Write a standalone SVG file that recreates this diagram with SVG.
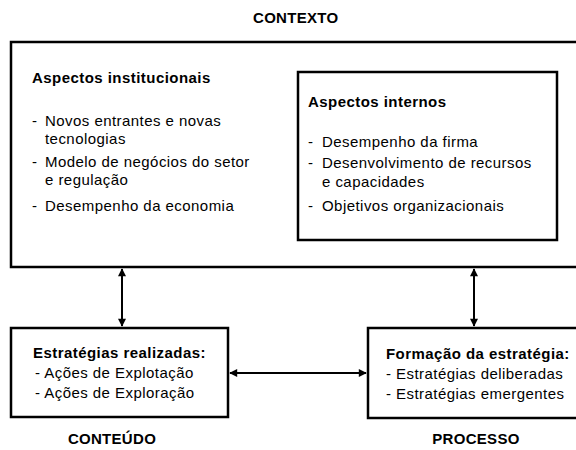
<svg xmlns="http://www.w3.org/2000/svg" width="576" height="450" viewBox="0 0 576 450">
<defs>
<marker id="ah" viewBox="0 0 10 10" refX="9" refY="5" markerWidth="4.5" markerHeight="4" orient="auto-start-reverse">
<path d="M0,0 L10,5 L0,10 Z" fill="#000"/>
</marker>
<style>
.box{fill:#fff;stroke:#000;stroke-width:2.5}
.t{font-family:"Liberation Sans",Arial,sans-serif;font-size:15px;letter-spacing:0.45px;fill:#000}
.b{font-weight:bold}
.lab{font-family:"Liberation Sans",Arial,sans-serif;font-size:15px;letter-spacing:0.3px;font-weight:bold;fill:#000}
.c{stroke:#000;stroke-width:2;fill:none;marker-start:url(#ah);marker-end:url(#ah)}
</style>
</defs>
<rect width="576" height="450" fill="#fff"/>
<text class="lab" x="253" y="23">CONTEXTO</text>
<g id="contexto">
<rect class="box" x="11" y="42" width="580" height="225"/>
<text class="t b" x="32" y="83">Aspectos institucionais</text>
<text class="t" x="32" y="126">-</text><text class="t" x="45" y="126">Novos entrantes e novas</text>
<text class="t" x="45" y="144">tecnologias</text>
<text class="t" x="32" y="167">-</text><text class="t" x="45" y="167">Modelo de negócios do setor</text>
<text class="t" x="45" y="185">e regulação</text>
<text class="t" x="32" y="211">-</text><text class="t" x="45" y="211">Desempenho da economia</text>
</g>
<g id="internos">
<rect class="box" x="298" y="72" width="259" height="168" stroke-width="2"/>
<text class="t b" x="308" y="107">Aspectos internos</text>
<text class="t" x="308" y="147">-</text><text class="t" x="322" y="147">Desempenho da firma</text>
<text class="t" x="308" y="168">-</text><text class="t" x="322" y="168">Desenvolvimento de recursos</text>
<text class="t" x="322" y="187">e capacidades</text>
<text class="t" x="308" y="211">-</text><text class="t" x="322" y="211">Objetivos organizacionais</text>
</g>
<g id="conteudo">
<rect class="box" x="11" y="328" width="217" height="89"/>
<text class="t b" x="33" y="358">Estratégias realizadas:</text>
<text class="t" x="35" y="378">- Ações de Explotação</text>
<text class="t" x="35" y="398">- Ações de Exploração</text>
</g>
<g id="processo">
<rect class="box" x="368" y="328" width="220" height="90"/>
<text class="t b" x="386" y="359">Formação da estratégia:</text>
<text class="t" x="386" y="379">- Estratégias deliberadas</text>
<text class="t" x="386" y="399">- Estratégias emergentes</text>
</g>
<text class="lab" x="112" y="444" text-anchor="middle">CONTEÚDO</text>
<text class="lab" x="476" y="444" text-anchor="middle">PROCESSO</text>
<g id="connectors">
<line class="c" x1="122" y1="269" x2="122" y2="326"/>
<line class="c" x1="474" y1="269" x2="474" y2="326"/>
<line class="c" x1="230" y1="373" x2="366" y2="373"/>
</g>
</svg>
